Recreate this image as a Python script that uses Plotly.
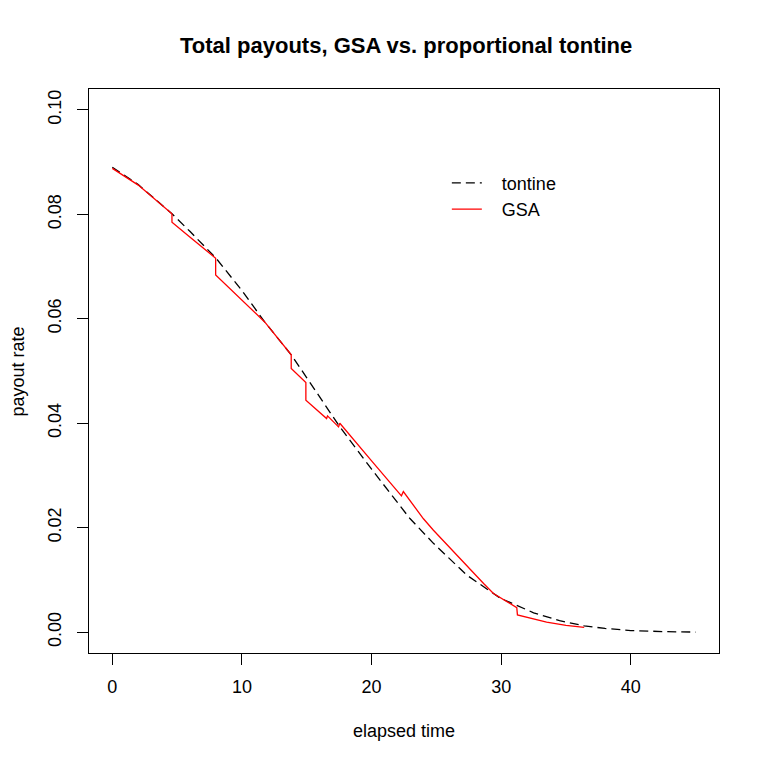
"""Total payouts, GSA vs. proportional tontine."""

import plotly.graph_objects as go

# tontine payout rate (dashed black)
tontine_t = [0, 2, 4.6, 6, 8, 10, 11.75, 13.8, 15, 16.77, 17.55, 20,
             22.94, 24.77, 27.35, 29.93, 32.5, 34.5, 36.4, 38, 40, 42.5, 45]
tontine_rate = [0.0890, 0.0857, 0.0801, 0.0767, 0.0716, 0.0654, 0.0594, 0.0531,
                0.0487, 0.0421, 0.0393, 0.0312, 0.0218, 0.0170, 0.0109, 0.0065,
                0.0037, 0.0022, 0.0012, 0.0007, 0.0003, 0.0001, 0.0000]

# GSA payout rate (red), repeated times mark the jumps
gsa_t = [0, 2, 4.6, 4.6, 6, 7.97, 7.97, 10, 11.75, 13.8, 13.8, 14.93, 14.93,
         16.53, 16.6, 17.45, 17.55, 20, 22.3, 22.45, 24.0, 24.77, 27.35,
         28.64, 29.4, 31.2, 31.25, 33.5, 35, 36.4]
gsa_rate = [0.0888, 0.0856, 0.0801, 0.0785, 0.0756, 0.0716, 0.0684, 0.0636,
            0.0594, 0.0531, 0.0505, 0.0478, 0.0444, 0.0409, 0.0414, 0.0393,
            0.0400, 0.0328, 0.0261, 0.0269, 0.0217, 0.0195, 0.0126, 0.0093,
            0.0074, 0.0047, 0.0033, 0.0019, 0.0013, 0.0009]

x_ticks = [0, 10, 20, 30, 40]
y_ticks = [0.00, 0.02, 0.04, 0.06, 0.08, 0.10]
y_tick_labels = ["0.00", "0.02", "0.04", "0.06", "0.08", "0.10"]

FONT = "Liberation Sans, Arial, sans-serif"
PAD = "\u00a0\u00a0\u00a0"  # R legends leave more room between key and label

fig = go.Figure()
fig.add_trace(go.Scatter(
    x=tontine_t, y=tontine_rate, mode="lines", name=PAD + "tontine",
    line=dict(color="black", width=1.3, dash="9px,5px"),
))
fig.add_trace(go.Scatter(
    x=gsa_t, y=gsa_rate, mode="lines", name=PAD + "GSA",
    line=dict(color="#FF0000", width=1.3),
))

axis_common = dict(
    showgrid=False, zeroline=False, showline=True, mirror=True,
    linecolor="black", linewidth=1, ticks="outside", ticklen=11,
    tickcolor="black", tickwidth=1, tickfont=dict(family=FONT, size=18, color="black"),
)

fig.update_layout(
    width=765, height=765,
    paper_bgcolor="white", plot_bgcolor="white",
    margin=dict(l=81, r=54, t=81, b=120),
    font=dict(family=FONT, size=18, color="black"),
    title=dict(
        text="<b>Total payouts, GSA vs. proportional tontine</b>",
        x=0.5205, xanchor="center", y=0.951, yanchor="middle",
        font=dict(family=FONT, size=22, color="black"),
    ),
    xaxis=dict(range=[-1.8, 46.8], tickvals=x_ticks, ticklabelstandoff=6, **axis_common),
    yaxis=dict(range=[-0.004, 0.104], tickvals=y_ticks, ticktext=y_tick_labels,
               tickangle=-90, ticklabelstandoff=9, **axis_common),
    legend=dict(
        x=0.568, y=0.866, xanchor="left", yanchor="top",
        bgcolor="rgba(0,0,0,0)", font=dict(family=FONT, size=18),
        tracegroupgap=0,
    ),
    annotations=[
        dict(text="elapsed time", xref="paper", yref="paper", x=0.5, y=-0.138,
             xanchor="center", yanchor="middle", showarrow=False,
             font=dict(family=FONT, size=18)),
        dict(text="payout rate", xref="paper", yref="paper", x=-0.112, y=0.5,
             xanchor="center", yanchor="middle", textangle=-90, showarrow=False,
             font=dict(family=FONT, size=18)),
    ],
)

fig.write_html("out.html")
